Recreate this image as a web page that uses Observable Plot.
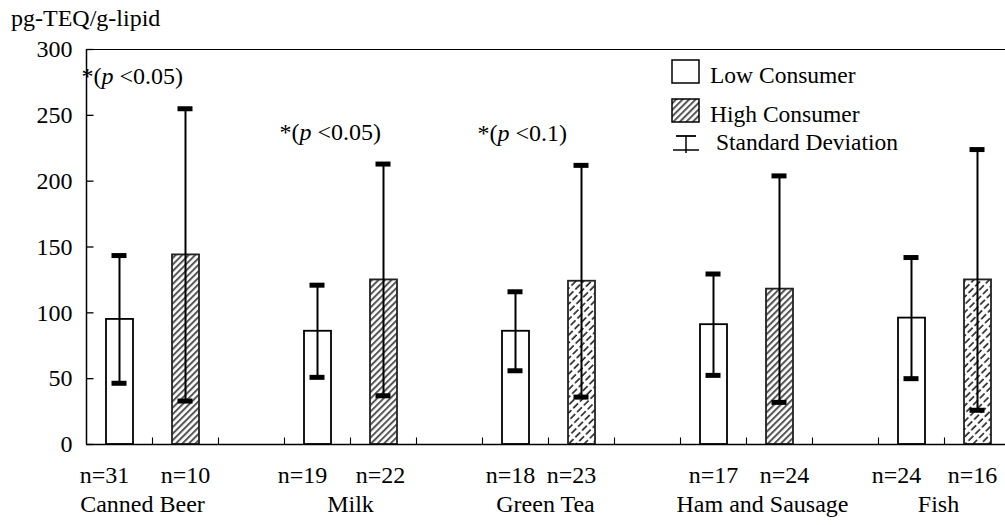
<!DOCTYPE html>
<html><head><meta charset="utf-8">
<script src="https://cdn.jsdelivr.net/npm/d3@7"></script>
<script src="https://cdn.jsdelivr.net/npm/@observablehq/plot@0.6"></script>
<style>
html,body{margin:0;padding:0;background:#fff;overflow:hidden;}
#chart{width:1005px;height:525px;}
</style></head>
<body><div id="chart"></div>
<script>
// ---- data ----
const categories = ["Canned Beer", "Milk", "Green Tea", "Ham and Sausage", "Fish"];
const seriesNames = ["Low Consumer", "High Consumer"];
const lowMean  = [95, 86, 86, 91, 96];
const lowSD    = [48.5, 35, 30, 38.5, 46];
const highMean = [144, 125, 124, 118, 125];
const highSD   = [111, 88, 88, 86, 99];
const lowN  = [31, 19, 18, 17, 24];
const highN = [10, 22, 23, 24, 16];
const significance = ["*(p <0.05)", "*(p <0.05)", "*(p <0.1)", "", ""];
const yTicks = [0, 50, 100, 150, 200, 250, 300];
const yUnit = "pg-TEQ/g-lipid";
const sdLabel = "Standard Deviation";

// ---- build table ----
const rows = categories.flatMap((c, g) => [
  {category: c, series: seriesNames[0], slot: 3 * g, mean: lowMean[g], sd: lowSD[g], n: lowN[g]},
  {category: c, series: seriesNames[1], slot: 3 * g + 1, mean: highMean[g], sd: highSD[g], n: highN[g]}
]);
const lowRows = rows.filter(d => d.series === seriesNames[0]);
const dashCats = new Set(["Green Tea", "Fish"]);
const highGray = rows.filter(d => d.series === seriesNames[1] && !dashCats.has(d.category));
const highDash = rows.filter(d => d.series === seriesNames[1] && dashCats.has(d.category));
const sigRows = categories.map((c, g) => ({
  g, label: significance[g],
  top: Math.max(lowMean[g] + lowSD[g], highMean[g] + highSD[g])
})).filter(d => d.label);
const nSlots = 3 * categories.length;
const slotW = 66;
const FONT = "'Liberation Serif', 'Times New Roman', serif";
const FS = 24;

// small text nudges (pixels) to follow the hand-placed labels of the original
const nLabelNudge = [-15, 0, -15, -3, -5, -10, 0, 5, -15, -5];
const catLabelNudge = [-10, 0, -3, 16, -6];

// custom tick symbols (inward ticks)
const tickUp = {draw(ctx) { ctx.moveTo(0, 0); ctx.lineTo(0, -7); }};
const tickRight = {draw(ctx) { ctx.moveTo(0, 0); ctx.lineTo(7, 0); }};

const svg = Plot.plot({
  width: 1005, height: 525,
  marginTop: 49, marginBottom: 81, marginLeft: 86, marginRight: 0,
  style: {fontFamily: FONT, fontSize: FS + "px", background: "white", overflow: "hidden"},
  x: {type: "linear", domain: [0, nSlots], range: [86, 86 + slotW * nSlots], axis: null},
  y: {type: "linear", domain: [0, 300], axis: null},
  marks: [
    // frame lines
    Plot.ruleY([300], {stroke: "black", strokeWidth: 1.2}),
    Plot.ruleX([0], {stroke: "black", strokeWidth: 1.5}),
    // y ticks (inward) and labels
    Plot.dot(yTicks, {x: 0, y: d => d, symbol: tickRight, stroke: "black", fill: "none", strokeWidth: 1.3}),
    Plot.text(yTicks, {x: 0, y: d => d, text: d => String(d), textAnchor: "end", dx: -14, fontSize: FS}),
    // x slot ticks (inward)
    Plot.dot(d3.range(1, nSlots), {x: d => d, y: 0, symbol: tickUp, stroke: "black", fill: "none", strokeWidth: 1.1}),
    // bars
    Plot.rect(lowRows, {x1: "slot", x2: d => d.slot + 1, y1: 0, y2: "mean", insetLeft: 20, insetRight: 19,
      fill: "white", stroke: "black", strokeWidth: 1.8}),
    Plot.rect(highGray, {x1: "slot", x2: d => d.slot + 1, y1: 0, y2: "mean", insetLeft: 20, insetRight: 19,
      fill: "url(#hatchGray)", stroke: "#222", strokeWidth: 1.8}),
    Plot.rect(highDash, {x1: "slot", x2: d => d.slot + 1, y1: 0, y2: "mean", insetLeft: 20, insetRight: 19,
      fill: "url(#hatchDash)", stroke: "#222", strokeWidth: 1.8}),
    // error bars
    Plot.ruleX(rows, {x: d => d.slot + 0.5, y1: d => d.mean - d.sd, y2: d => d.mean + d.sd, stroke: "black", strokeWidth: 2}),
    Plot.ruleY(rows, {x1: d => d.slot + 0.5, x2: d => d.slot + 0.5, y: d => d.mean + d.sd, insetLeft: -7.5, insetRight: -7.5, stroke: "black", strokeWidth: 5}),
    Plot.ruleY(rows, {x1: d => d.slot + 0.5, x2: d => d.slot + 0.5, y: d => d.mean - d.sd, insetLeft: -7.5, insetRight: -7.5, stroke: "black", strokeWidth: 5}),
    // baseline
    Plot.ruleY([0], {stroke: "black", strokeWidth: 1.5}),
    // n labels and category labels
    ...rows.map((r, i) => Plot.text([r], {x: d => d.slot + 0.5, y: 0, text: d => `n=${d.n}`, dy: 31, dx: nLabelNudge[i], fontSize: FS})),
    ...categories.map((c, i) => Plot.text([c], {x: () => 3 * i + 1, y: 0, text: d => d, dy: 60, dx: catLabelNudge[i], fontSize: FS})),
    // significance annotations
    Plot.text(sigRows, {x: d => 3 * d.g, y: "top", text: "label", textAnchor: "start", dx: -5, dy: -32, fontSize: FS})
  ]
});

const s = d3.select(svg);
// patterns
const defs = s.insert("defs", ":first-child");
const pg = defs.append("pattern").attr("id", "hatchGray").attr("patternUnits", "userSpaceOnUse")
  .attr("width", 4.6).attr("height", 4.6).attr("patternTransform", "rotate(45)");
pg.append("rect").attr("width", 4.6).attr("height", 4.6).attr("fill", "white");
pg.append("line").attr("x1", 1).attr("y1", 0).attr("x2", 1).attr("y2", 4.6).attr("stroke", "#555").attr("stroke-width", 2);
const pd = defs.append("pattern").attr("id", "hatchDash").attr("patternUnits", "userSpaceOnUse")
  .attr("width", 5.5).attr("height", 9.5).attr("patternTransform", "rotate(45)");
pd.append("rect").attr("width", 5.5).attr("height", 9.5).attr("fill", "white");
pd.append("line").attr("x1", 1).attr("y1", 0).attr("x2", 1).attr("y2", 9.5).attr("stroke", "#000")
  .attr("stroke-width", 1.4).attr("stroke-dasharray", "7 2.5");

// italic p in annotations
s.selectAll("text").each(function () {
  const t = this.textContent;
  if (t.startsWith("*(p")) {
    const rest = t.slice(3);
    this.textContent = "";
    const e = d3.select(this);
    e.append("tspan").text("*(");
    e.append("tspan").attr("font-style", "italic").text("p");
    e.append("tspan").text(rest);
  }
});

// unit title
s.append("text").attr("x", 11).attr("y", 26).attr("text-anchor", "start")
  .attr("font-size", FS).attr("font-family", FONT).text(yUnit);

// legend
const LFS = 23.5;
const lg = s.append("g").attr("font-family", FONT).attr("font-size", LFS).attr("text-anchor", "start");
lg.append("rect").attr("x", 672).attr("y", 60).attr("width", 27).attr("height", 23)
  .attr("fill", "white").attr("stroke", "black").attr("stroke-width", 1.5);
lg.append("text").attr("x", 710).attr("y", 83).text(seriesNames[0]);
lg.append("rect").attr("x", 672).attr("y", 99).attr("width", 27).attr("height", 23)
  .attr("fill", "url(#hatchGray)").attr("stroke", "black").attr("stroke-width", 1.5);
lg.append("text").attr("x", 710).attr("y", 122).text(seriesNames[1]);
lg.append("line").attr("x1", 686).attr("x2", 686).attr("y1", 136).attr("y2", 153).attr("stroke", "black").attr("stroke-width", 1.5);
lg.append("line").attr("x1", 676).attr("x2", 696).attr("y1", 136).attr("y2", 136).attr("stroke", "black").attr("stroke-width", 1.8);
lg.append("line").attr("x1", 673).attr("x2", 699).attr("y1", 150).attr("y2", 150).attr("stroke", "black").attr("stroke-width", 1.5);
lg.append("text").attr("x", 716).attr("y", 150).text(sdLabel);

document.getElementById("chart").appendChild(svg);
</script>
</body></html>
